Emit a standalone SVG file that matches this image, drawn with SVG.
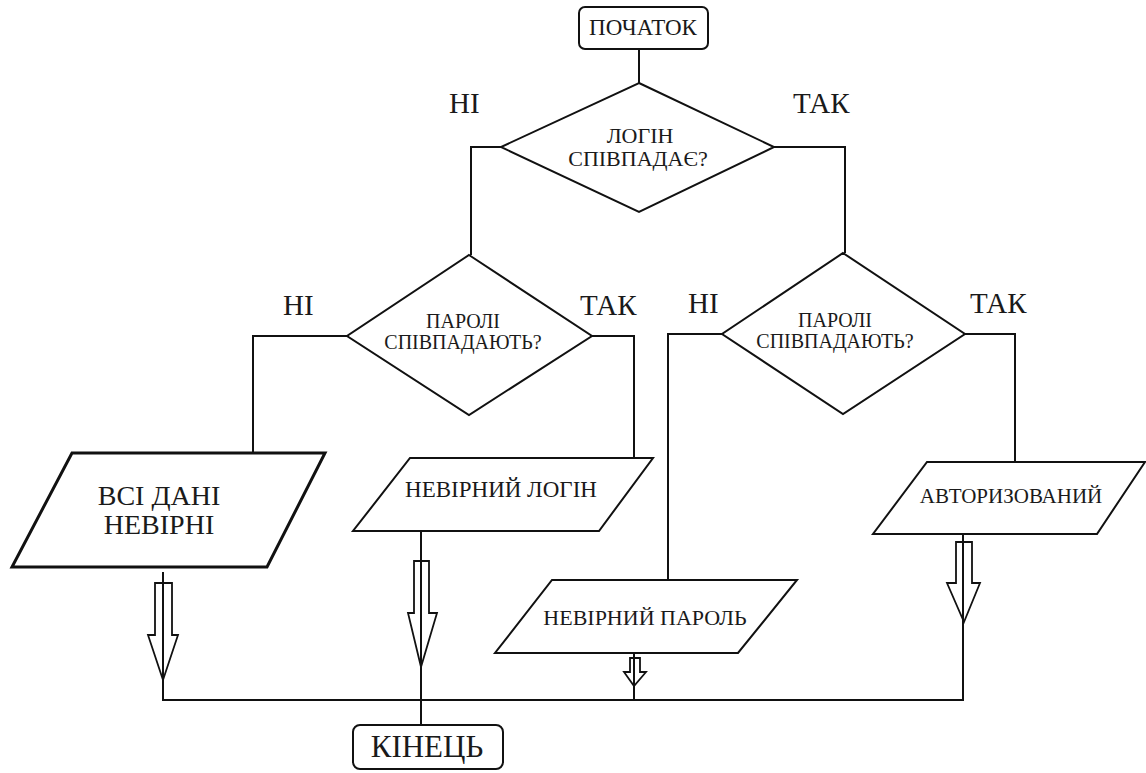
<svg xmlns="http://www.w3.org/2000/svg" width="1146" height="773" viewBox="0 0 1146 773">
<style>
.s{fill:none;stroke:#111;stroke-width:2;stroke-linejoin:miter}
.n{fill:#fff;stroke:#111;stroke-width:2}
.t{font-family:'Liberation Serif','DejaVu Serif',serif;fill:#1a1a1a;text-anchor:middle}
.l{font-family:'Liberation Serif','DejaVu Serif',serif;fill:#1a1a1a;font-size:29px}
.a{fill:none;stroke:#111;stroke-width:1.8}
</style>
<rect width="1146" height="773" fill="#fff"/>
<g id="connectors">
<path class="s" d="M639,49 V83"/>
<path class="s" d="M501,147 H471 V255"/>
<path class="s" d="M774,147 H845 V253"/>
<path class="s" d="M347,336 H253 V453"/>
<path class="s" d="M592,336 H634 V458"/>
<path class="s" d="M722,334 H668 V580"/>
<path class="s" d="M965,334 H1015 V462"/>
<path class="s" d="M163,572 V700 H963 V534"/>
<path class="s" d="M421,531 V725"/>
<path class="s" d="M634,653 V700"/>
<polygon class="a" points="155,583 172,583 172,635 178,635 163,680 148,635 155,635"/>
<polygon class="a" points="414,561 429,561 429,613 437,613 421,667 408,613 414,613"/>
<polygon class="a" points="630,658 640,658 640,672 646,672 634,686 624,672 630,672"/>
<polygon class="a" points="956,542 972,542 972,583 980,583 964,622 947,583 956,583"/>
</g>
<g id="start">
<rect class="n" x="579" y="7" width="129" height="42" rx="6"/>
<text class="t" x="643" y="35" font-size="23">ПОЧАТОК</text>
</g>
<g id="d1">
<polygon class="n" points="639,83 774,147 639,212 501,147"/>
<text class="t" x="640" y="143" font-size="22">ЛОГІН</text>
<text class="t" x="638" y="166" font-size="22">СПІВПАДАЄ?</text>
</g>
<g id="lbl1">
<text class="l" x="449" y="113">НІ</text>
<text class="l" x="793" y="113">ТАК</text>
</g>
<g id="d2">
<polygon class="n" points="469,255 592,336 469,415 347,336"/>
<text class="t" x="463" y="328" font-size="20">ПАРОЛІ</text>
<text class="t" x="463" y="349" font-size="20">СПІВПАДАЮТЬ?</text>
</g>
<g id="lbl2">
<text class="l" x="283" y="315">НІ</text>
<text class="l" x="580" y="315">ТАК</text>
</g>
<g id="d3">
<polygon class="n" points="843,253 965,334 843,414 722,334"/>
<text class="t" x="835" y="327" font-size="20">ПАРОЛІ</text>
<text class="t" x="835" y="348" font-size="20">СПІВПАДАЮТЬ?</text>
</g>
<g id="lbl3">
<text class="l" x="688" y="313">НІ</text>
<text class="l" x="970" y="313">ТАК</text>
</g>
<g id="all-wrong">
<polygon class="n" style="stroke-width:3" points="72,453 325,453 267,567 12,567"/>
<text class="t" x="159" y="505" font-size="28">ВСІ ДАНІ</text>
<text class="t" x="159" y="534" font-size="28">НЕВІРНІ</text>
</g>
<g id="wrong-login">
<polygon class="n" points="410,458 653,458 599,531 353,531"/>
<text class="t" x="501" y="497" font-size="23">НЕВІРНИЙ ЛОГІН</text>
</g>
<g id="wrong-pass">
<polygon class="n" points="552,580 797,580 738,653 495,653"/>
<text class="t" x="645" y="625" font-size="22">НЕВІРНИЙ ПАРОЛЬ</text>
</g>
<g id="auth">
<polygon class="n" points="927,462 1145,462 1097,534 873,534"/>
<text class="t" x="1011" y="503" font-size="21">АВТОРИЗОВАНИЙ</text>
</g>
<g id="end">
<rect class="n" x="353" y="725" width="150" height="44" rx="7"/>
<text class="t" x="427" y="757" font-size="31">КІНЕЦЬ</text>
</g>
</svg>
